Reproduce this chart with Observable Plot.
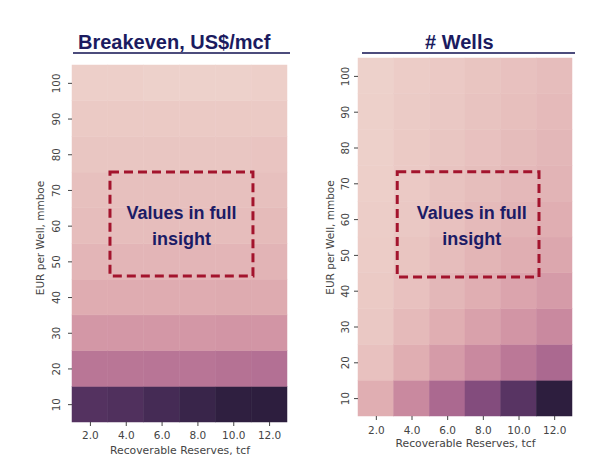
<!DOCTYPE html>
<html><head><meta charset="utf-8">
<script src="https://cdn.jsdelivr.net/npm/d3@7"></script>
<script src="https://cdn.jsdelivr.net/npm/@observablehq/plot@0.6"></script>
<style>
body{margin:0;background:#fff;}
#wrap{position:relative;width:604px;height:471px;overflow:hidden;font-family:"Liberation Sans",Arial,sans-serif;}
.ttl{position:absolute;font-weight:bold;font-size:20px;line-height:20px;color:#1b1b60;white-space:nowrap;}
.rule{position:absolute;height:2px;background:#4c4c7c;}
.chart{position:absolute;top:0;}
</style></head><body>
<div id="wrap">
 <div class="ttl" style="left:78px;top:32px">Breakeven, US$/mcf</div>
 <div class="rule" style="left:73px;top:52px;width:217px"></div>
 <div class="ttl" style="left:425px;top:32px"># Wells</div>
 <div class="rule" style="left:362px;top:52px;width:213px"></div>
 <div id="c1" class="chart" style="left:0"></div>
 <div id="c2" class="chart" style="left:300px"></div>
</div>
<script>
// ---- data ----
const reserves = [2, 4, 6, 8, 10, 12];
const reserveTickLabels = ["2.0", "4.0", "6.0", "8.0", "10.0", "12.0"];
const eur = [10, 20, 30, 40, 50, 60, 70, 80, 90, 100];
const eurTickLabels = ["10", "20", "30", "40", "50", "60", "70", "80", "90", "100"];
const xLabel = "Recoverable Reserves, tcf";
const yLabel = "EUR per Well, mmboe";
const noteText = "Values in full\ninsight";
// rows follow eur (10 → 100), columns follow reserves (2 → 12)
const breakeven = [
  [12.1, 12.3, 12.8, 13.4, 13.9, 14.0],
  [6.8, 6.8, 6.9, 6.9, 7.1, 7.2],
  [4.8, 4.8, 4.8, 4.8, 4.9, 4.9],
  [3.6, 3.6, 3.6, 3.6, 3.7, 3.7],
  [3.1, 3.1, 3.1, 3.1, 3.1, 3.2],
  [2.7, 2.7, 2.7, 2.7, 2.7, 2.8],
  [2.5, 2.5, 2.5, 2.5, 2.5, 2.5],
  [2.2, 2.2, 2.2, 2.2, 2.2, 2.3],
  [2.0, 2.0, 2.0, 2.0, 2.0, 2.0],
  [1.7, 1.7, 1.6, 1.6, 1.6, 1.7]
];
const wells = [
  [34, 69, 103, 138, 172, 206],
  [17, 34, 52, 69, 86, 103],
  [11, 23, 34, 46, 57, 69],
  [9, 17, 26, 34, 43, 52],
  [7, 14, 21, 28, 34, 41],
  [6, 11, 17, 23, 29, 34],
  [5, 10, 15, 20, 25, 29],
  [4, 9, 13, 17, 22, 26],
  [4, 8, 11, 15, 19, 23],
  [3, 7, 10, 14, 17, 21]
];
// annotation boxes (data coordinates)
const boxLeft = {x1: 3.12, x2: 11.1, y1: 45.9, y2: 75, cx: 7.08, cy: 60.7};
const boxRight = {x1: 3.2, x2: 11.15, y1: 43.8, y2: 73.2, cx: 7.35, cy: 58.9};

// seaborn default cubehelix_palette colormap (light -> dark)
function seabornCubehelix(t) {
  const x = 0.85 - 0.7 * t;
  const a = 0.8 * x * (1 - x) / 2;
  const phi = 2 * Math.PI * (0.4 * x);
  const c = Math.cos(phi), s = Math.sin(phi);
  const r = x + a * (-0.14861 * c + 1.78277 * s);
  const g = x + a * (-0.29227 * c - 0.90649 * s);
  const b = x + a * (1.97294 * c);
  const f = v => Math.round(255 * Math.max(0, Math.min(1, v)));
  return `rgb(${f(r)},${f(g)},${f(b)})`;
}

function heatmap(values, box, o) {
  const cells = [];
  eur.forEach((e, i) => reserves.forEach((r, j) => cells.push({r, e, v: values[i][j]})));
  return Plot.plot({
    width: o.width, height: 471,
    marginLeft: o.ml, marginRight: o.mr, marginTop: o.mt, marginBottom: o.mb,
    x: {type: "linear", domain: [1, 13]},
    y: {type: "linear", domain: [5, 105]},
    color: {type: "linear", interpolate: seabornCubehelix},
    style: {fontFamily: "DejaVu Sans", fontSize: "10.5px", color: "#444", background: "transparent"},
    marks: [
      Plot.rect(cells, {x1: d => d.r - 1, x2: d => d.r + 1, y1: d => d.e - 5, y2: d => d.e + 5, fill: "v", stroke: "v", strokeWidth: 0.5}),
      Plot.axisX(reserves, {tickSize: 4, tickPadding: o.xpad, tickFormat: d => reserveTickLabels[reserves.indexOf(d)], label: null}),
      Plot.axisY(eur, {tickSize: 4, tickFormat: () => "", label: null}),
      Plot.text(eur, {y: d => d, frameAnchor: "left", textAnchor: "middle", lineAnchor: "middle", text: d => eurTickLabels[eur.indexOf(d)], rotate: -90, dx: o.ytdx, fill: "#444", fontSize: 10.3}),
      Plot.text([xLabel], {frameAnchor: "bottom", textAnchor: "middle", lineAnchor: "middle", dy: o.xldy, fill: "#444", fontSize: 10.8}),
      Plot.text([yLabel], {frameAnchor: "left", textAnchor: "middle", lineAnchor: "middle", rotate: -90, dx: o.yldx, dy: o.yldy, fill: "#444", fontSize: 10.5}),
      Plot.rect([box], {x1: "x1", x2: "x2", y1: "y1", y2: "y2", fill: "none", stroke: "#a3142d", strokeWidth: 3, strokeDasharray: "9,5"}),
      Plot.text([noteText], {x: box.cx, y: box.cy, fontSize: 18, fontWeight: "bold", fill: "#1b1b66", lineHeight: 1.45, fontFamily: "Liberation Sans, Arial, sans-serif"})
    ]
  });
}

document.getElementById("c1").appendChild(heatmap(breakeven, boxLeft,
  {width: 300, ml: 72, mr: 13, mt: 65, mb: 49, xpad: 5, ytdx: -16, xldy: 28, yldx: -32, yldy: -6}));
document.getElementById("c2").appendChild(heatmap(wells, boxRight,
  {width: 304, ml: 58, mr: 32, mt: 58, mb: 55, xpad: 6, ytdx: -12.5, xldy: 27, yldx: -28, yldy: 0}));
</script>
</body></html>
